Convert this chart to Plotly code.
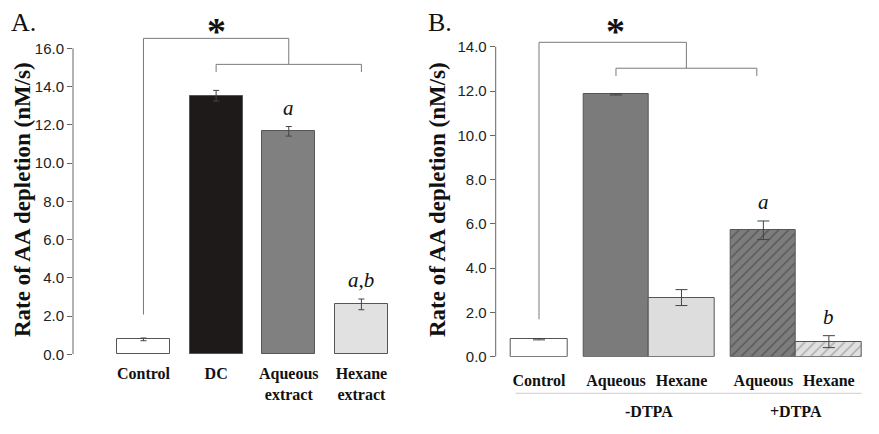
import plotly.graph_objects as go

# ---------------- data ----------------
a_categories = ["Control", "DC", "Aqueous<br>extract", "Hexane<br>extract"]
a_values = [0.78, 13.52, 11.66, 2.61]
a_errors = [0.07, 0.28, 0.25, 0.28]
a_letters = ["", "", "a", "a,b"]
a_colors = ["#ffffff", "#1f1a1a", "#808080", "#e1e1e1"]

b_categories = ["Control", "Aqueous", "Hexane", "Aqueous", "Hexane"]
b_values = [0.79, 11.85, 2.67, 5.71, 0.68]
b_errors = [0.03, 0.03, 0.36, 0.42, 0.27]
b_letters = ["", "", "", "a", "b"]
b_colors = ["#ffffff", "#7b7b7b", "#dddddd", "#7d7d7d", "#e0e0e0"]
b_groups = ["-DTPA", "+DTPA"]

a_yticks = [0, 2, 4, 6, 8, 10, 12, 14, 16]
b_yticks = [0, 2, 4, 6, 8, 10, 12, 14]

# ---------------- layout constants ----------------
W, H = 879, 434
OFF = 8  # page offset of the figure inside the browser window
SERIF = "Liberation Serif"
SANS = "Liberation Sans"
EDGE = "#555555"
LINE = "#7a7a7a"

a_x = list(range(len(a_categories)))
# panel B: control alone, then two touching pairs
b_x = [0.0, 1.175, 2.175, 3.425, 4.425]
b_width = [0.865, 1.0, 1.0, 1.0, 1.0]
b_hatched = [False, False, False, True, True]
b_pattern_fg = ["#000000", "#000000", "#000000", "#2a2a2a", "#666666"]


def py(px):
    return 1 - (px - OFF) / H


def pxx(px):
    return (px - OFF) / W


fig = go.Figure()

fig.add_trace(go.Bar(
    x=a_x, y=a_values, width=0.73,
    marker=dict(color=a_colors, line=dict(color=EDGE, width=1)),
    error_y=dict(type="data", array=a_errors, color="#444444", thickness=1, width=3),
    xaxis="x", yaxis="y", showlegend=False,
))

for i in range(len(b_values)):
    pat = dict(shape="/", fgcolor=b_pattern_fg[i], size=7, solidity=0.18, fillmode="overlay") \
        if b_hatched[i] else dict(shape="")
    fig.add_trace(go.Bar(
        x=[b_x[i]], y=[b_values[i]], width=[b_width[i]],
        marker=dict(color=b_colors[i], line=dict(color=EDGE, width=1), pattern=pat),
        error_y=dict(type="data", array=[b_errors[i]], color="#444444", thickness=1, width=6),
        xaxis="x2", yaxis="y2", showlegend=False,
    ))

axis_common = dict(showgrid=False, zeroline=False, showline=False, automargin=False)
xtickfont = dict(family=SERIF, size=16, color="#111111", weight="bold")
ytickfont = dict(family=SANS, size=15, color="#222222")

fig.update_layout(
    template="none",
    width=W, height=H,
    autosize=False,
    margin=dict(l=0, r=0, t=0, b=0, pad=0),
    paper_bgcolor="white", plot_bgcolor="white",
    barmode="overlay",
    bargap=0,
    xaxis=dict(domain=[pxx(73), pxx(405)], range=[-0.97, 3.6], anchor="y",
               tickvals=a_x, ticktext=a_categories, ticks="",
               tickfont=xtickfont, ticklabelstandoff=8, **axis_common),
    yaxis=dict(domain=[py(354.3), 1.0], range=[0, (354.3 - OFF) / 19.125], anchor="x",
               tickvals=a_yticks, tickformat=".1f", ticks="outside", ticklen=5,
               tickcolor="#666666", tickfont=ytickfont, **axis_common),
    xaxis2=dict(domain=[pxx(495.7), pxx(870)], range=[-0.661, 5.053], anchor="y2",
                tickvals=b_x, ticktext=b_categories, ticks="",
                tickfont=xtickfont, ticklabelstandoff=12, **axis_common),
    yaxis2=dict(domain=[py(356.7), 1.0], range=[0, (356.7 - OFF) / 22.14], anchor="x2",
                tickvals=b_yticks, tickformat=".1f", ticks="outside", ticklen=5,
                tickcolor="#666666", tickfont=ytickfont, **axis_common),
)

shapes = []
annotations = []

# y axis lines (only up to the top tick)
shapes.append(dict(type="line", xref="x domain", yref="y", x0=0, x1=0, y0=0, y1=a_yticks[-1],
                   line=dict(color="#666666", width=1)))
shapes.append(dict(type="line", xref="x2 domain", yref="y2", x0=0, x1=0, y0=0, y1=b_yticks[-1],
                   line=dict(color="#666666", width=1)))


def bracket(xr, yr, x_ctrl, ctrl_val, x_l, x_r, top, step, drop, ctrl_gap):
    second = top - step
    mid = (x_l + x_r) / 2
    ln = dict(color=LINE, width=1)
    shapes.append(dict(type="line", xref=xr, yref=yr, x0=x_ctrl, x1=x_ctrl, y0=ctrl_val + ctrl_gap, y1=top, line=ln))
    shapes.append(dict(type="line", xref=xr, yref=yr, x0=x_ctrl, x1=mid, y0=top, y1=top, line=ln))
    shapes.append(dict(type="line", xref=xr, yref=yr, x0=mid, x1=mid, y0=top, y1=second, line=ln))
    shapes.append(dict(type="line", xref=xr, yref=yr, x0=x_l, x1=x_r, y0=second, y1=second, line=ln))
    shapes.append(dict(type="line", xref=xr, yref=yr, x0=x_l, x1=x_l, y0=second, y1=second - drop, line=ln))
    shapes.append(dict(type="line", xref=xr, yref=yr, x0=x_r, x1=x_r, y0=second, y1=second - drop, line=ln))
    annotations.append(dict(xref=xr, yref="paper", x=x_l, y=1.0, text="*", showarrow=False,
                            yanchor="top", yshift=0,
                            font=dict(family=SERIF, size=38, color="#111111", weight="bold")))


bracket("x", "y", a_x[0], a_values[0], a_x[1], a_x[3], max(a_values) + 3.0, 1.36, 0.4, 1.3)
bracket("x2", "y2", b_x[0], b_values[0], b_x[1], b_x[3] - 0.1, max(b_values) + 2.35, 1.17, 0.35, 0.9)

# significance letters
for xs, vals, errs, letters, xr, yr, sh in [
    (a_x, a_values, a_errors, a_letters, "x", "y", 19),
    (b_x, b_values, b_errors, b_letters, "x2", "y2", 19),
]:
    for xv, v, e, t in zip(xs, vals, errs, letters):
        if t:
            annotations.append(dict(xref=xr, yref=yr, x=xv, y=v + e, text=f"<i>{t}</i>",
                                    showarrow=False, yanchor="middle", yshift=sh,
                                    font=dict(family=SERIF, size=21, color="#111111")))

# y-axis titles
for xpx in (22, 437):
    annotations.append(dict(xref="paper", yref="paper", x=pxx(xpx), y=py(200), text="Rate of AA depletion (nM/s)",
                            textangle=-90, showarrow=False, xanchor="center", yanchor="middle",
                            font=dict(family=SERIF, size=23, color="#111111", weight="bold")))

# panel letters
annotations.append(dict(xref="paper", yref="paper", x=pxx(9), y=1.0, text="A.", showarrow=False,
                        xanchor="left", yanchor="top", yshift=2,
                        font=dict(family=SERIF, size=26, color="#111111")))
annotations.append(dict(xref="paper", yref="paper", x=pxx(426), y=1.0, text="B.", showarrow=False,
                        xanchor="left", yanchor="top", yshift=2,
                        font=dict(family=SERIF, size=26, color="#111111")))

# DTPA group labels and separator line
group_centers = [(b_x[1] + b_x[2]) / 2, (b_x[3] + b_x[4]) / 2]
for gx, g in zip(group_centers, b_groups):
    annotations.append(dict(xref="x2", yref="paper", x=gx, y=py(411.7), text=g, showarrow=False,
                            xanchor="center", yanchor="middle",
                            font=dict(family=SERIF, size=16, color="#111111", weight="bold")))
shapes.append(dict(type="line", xref="x2", yref="paper", x0=-0.356, x1=b_x[4] + 0.5, y0=py(393.3), y1=py(393.3),
                   line=dict(color="#cccccc", width=1)))

fig.update_layout(shapes=shapes, annotations=annotations)

fig.write_html("out.html")
